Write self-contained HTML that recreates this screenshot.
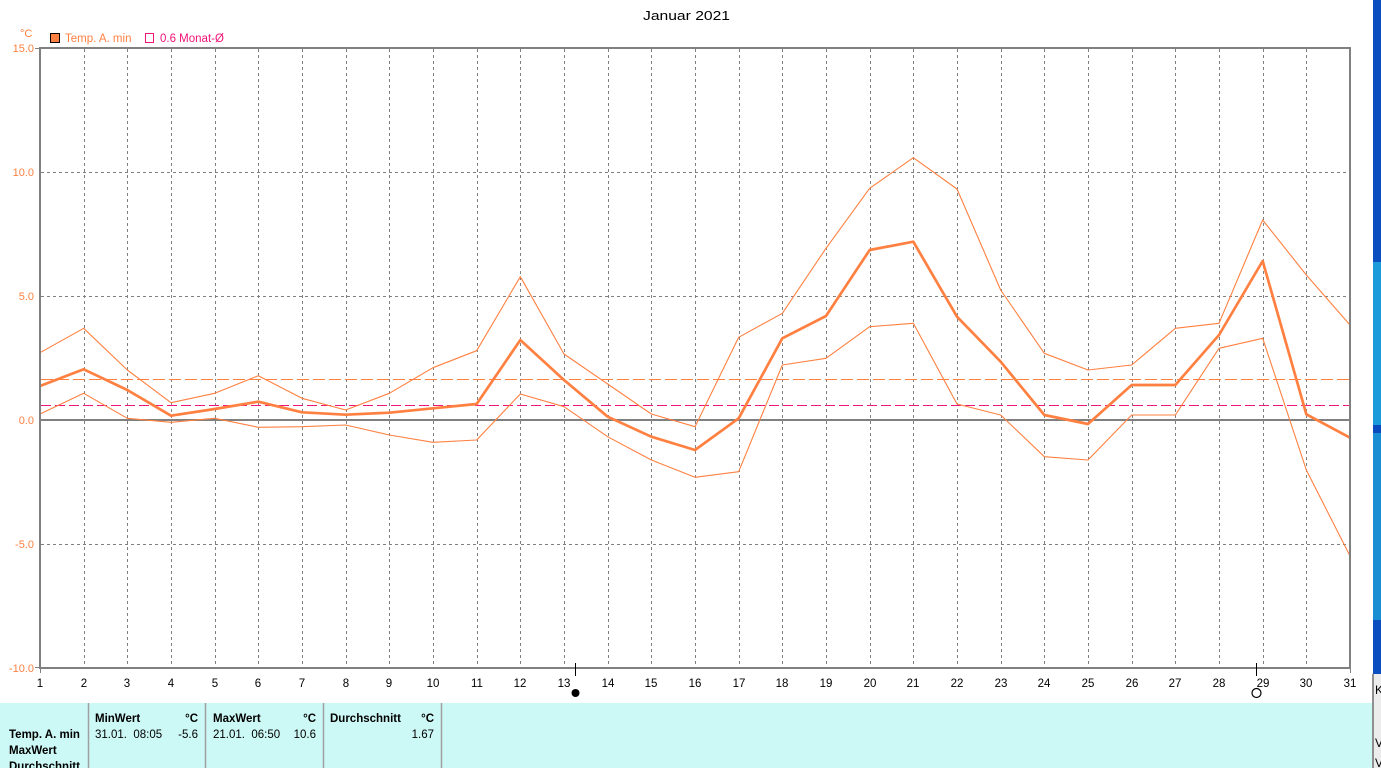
<!DOCTYPE html>
<html><head><meta charset="utf-8"><style>
html,body{margin:0;padding:0;background:#fff;}
svg{display:block;font-family:"Liberation Sans",sans-serif;}
</style></head><body>
<svg width="1381" height="768" viewBox="0 0 1381 768" xmlns="http://www.w3.org/2000/svg">
<rect x="0" y="0" width="1381" height="768" fill="#fff"/>
<!-- title -->
<text x="643" y="20" font-size="13" fill="#000" textLength="87" lengthAdjust="spacingAndGlyphs">Januar 2021</text>
<!-- unit + legend -->
<text x="20" y="37" font-size="11" fill="#FF8040">°C</text>
<rect x="50.5" y="33.5" width="9" height="9" fill="#FF8040" stroke="#000" stroke-width="1"/>
<text x="65" y="42" font-size="11.5" fill="#FF8040">Temp. A. min</text>
<rect x="145.5" y="33.5" width="8" height="9" fill="none" stroke="#F0147A" stroke-width="1"/>
<text x="160" y="42" font-size="11.5" fill="#F0147A">0.6 Monat-Ø</text>

<!-- grid vertical -->
<g stroke="#808080" stroke-width="1" stroke-dasharray="3,3" shape-rendering="crispEdges">
<line x1="84.5" y1="49" x2="84.5" y2="667"/>
<line x1="127.5" y1="49" x2="127.5" y2="667"/>
<line x1="171.5" y1="49" x2="171.5" y2="667"/>
<line x1="215.5" y1="49" x2="215.5" y2="667"/>
<line x1="258.5" y1="49" x2="258.5" y2="667"/>
<line x1="302.5" y1="49" x2="302.5" y2="667"/>
<line x1="346.5" y1="49" x2="346.5" y2="667"/>
<line x1="389.5" y1="49" x2="389.5" y2="667"/>
<line x1="433.5" y1="49" x2="433.5" y2="667"/>
<line x1="477.5" y1="49" x2="477.5" y2="667"/>
<line x1="520.5" y1="49" x2="520.5" y2="667"/>
<line x1="564.5" y1="49" x2="564.5" y2="667"/>
<line x1="608.5" y1="49" x2="608.5" y2="667"/>
<line x1="651.5" y1="49" x2="651.5" y2="667"/>
<line x1="695.5" y1="49" x2="695.5" y2="667"/>
<line x1="739.5" y1="49" x2="739.5" y2="667"/>
<line x1="782.5" y1="49" x2="782.5" y2="667"/>
<line x1="826.5" y1="49" x2="826.5" y2="667"/>
<line x1="870.5" y1="49" x2="870.5" y2="667"/>
<line x1="913.5" y1="49" x2="913.5" y2="667"/>
<line x1="957.5" y1="49" x2="957.5" y2="667"/>
<line x1="1001.5" y1="49" x2="1001.5" y2="667"/>
<line x1="1044.5" y1="49" x2="1044.5" y2="667"/>
<line x1="1088.5" y1="49" x2="1088.5" y2="667"/>
<line x1="1132.5" y1="49" x2="1132.5" y2="667"/>
<line x1="1175.5" y1="49" x2="1175.5" y2="667"/>
<line x1="1219.5" y1="49" x2="1219.5" y2="667"/>
<line x1="1263.5" y1="49" x2="1263.5" y2="667"/>
<line x1="1306.5" y1="49" x2="1306.5" y2="667"/>
<!-- horizontal -->
<line x1="41" y1="172.5" x2="1349" y2="172.5"/>
<line x1="41" y1="296.5" x2="1349" y2="296.5"/>
<line x1="41" y1="544.5" x2="1349" y2="544.5"/>
</g>
<!-- zero line -->
<line x1="40" y1="420" x2="1350" y2="420" stroke="#808080" stroke-width="2" shape-rendering="crispEdges"/>
<!-- reference dashed lines -->
<line x1="41" y1="379.5" x2="1349" y2="379.5" stroke="#FF8040" stroke-width="1" stroke-dasharray="12,4" shape-rendering="crispEdges"/>
<line x1="41" y1="405.5" x2="1349" y2="405.5" stroke="#F0147A" stroke-width="1" stroke-dasharray="10,4" shape-rendering="crispEdges"/>

<!-- series -->
<g fill="none" stroke="#FF8040" stroke-linejoin="round">
<polyline stroke-width="1.1" points="40,352.7 83.67,328.3 127.33,370 171,402.7 214.67,393.3 258.33,375.7 302,398.3 345.67,410 389.33,393.3 433,367.7 476.67,350.7 520.33,276.7 564,354 607.67,384 651.33,414 695,426.7 738.67,337.3 782.33,313.3 826,248.3 869.67,188.3 913.33,157.7 957,189 1000.67,290 1044.33,353.3 1088,370 1131.67,365 1175.33,328.3 1219,323.3 1262.67,220 1306.33,275 1350,325"/>
<polyline stroke-width="2.7" points="40,386 83.67,369.3 127.33,390 171,415.7 214.67,409 258.33,401.7 302,412.3 345.67,414.7 389.33,412.7 433,408.3 476.67,404 520.33,340 564,380 607.67,416.7 651.33,436.7 695,450 738.67,418.3 782.33,338.3 826,316 869.67,250 913.33,241.7 957,316.7 1000.67,361.7 1044.33,415 1088,424 1131.67,385 1175.33,385 1219,335 1262.67,261 1306.33,414.3 1350,437.7"/>
<polyline stroke-width="1.1" points="40,414 83.67,393.3 127.33,418.3 171,422.3 214.67,418.3 258.33,427.3 302,426.7 345.67,425 389.33,435 433,442.3 476.67,440 520.33,394 564,406.7 607.67,436.7 651.33,460 695,477.3 738.67,471.7 782.33,365 826,358.3 869.67,326.7 913.33,323.3 957,404 1000.67,415 1044.33,456.7 1088,460 1131.67,415 1175.33,415 1219,348.3 1262.67,338.3 1306.33,470 1350,556"/>
</g>

<!-- frame -->
<rect x="40" y="48" width="1310" height="620" fill="none" stroke="#808080" stroke-width="2" shape-rendering="crispEdges"/>
<g stroke="#808080" stroke-width="1" shape-rendering="crispEdges">
<line x1="35" y1="48.5" x2="40" y2="48.5"/>
<line x1="35" y1="667.5" x2="40" y2="667.5"/>
<line x1="40.5" y1="668" x2="40.5" y2="673"/>
<line x1="1350.5" y1="668" x2="1350.5" y2="673"/>
</g>

<!-- y labels -->
<g font-size="11" fill="#FF8040" text-anchor="end">
<text x="34" y="52">15.0</text>
<text x="34" y="176">10.0</text>
<text x="34" y="300">5.0</text>
<text x="34" y="424">0.0</text>
<text x="34" y="548">-5.0</text>
<text x="34" y="672">-10.0</text>
</g>

<!-- x labels -->
<g font-size="11.5" fill="#000" text-anchor="middle">
<text x="40" y="687">1</text>
<text x="84" y="687">2</text>
<text x="127" y="687">3</text>
<text x="171" y="687">4</text>
<text x="215" y="687">5</text>
<text x="258" y="687">6</text>
<text x="302" y="687">7</text>
<text x="346" y="687">8</text>
<text x="389" y="687">9</text>
<text x="433" y="687">10</text>
<text x="477" y="687">11</text>
<text x="520" y="687">12</text>
<text x="564" y="687">13</text>
<text x="608" y="687">14</text>
<text x="651" y="687">15</text>
<text x="695" y="687">16</text>
<text x="739" y="687">17</text>
<text x="782" y="687">18</text>
<text x="826" y="687">19</text>
<text x="870" y="687">20</text>
<text x="913" y="687">21</text>
<text x="957" y="687">22</text>
<text x="1001" y="687">23</text>
<text x="1044" y="687">24</text>
<text x="1088" y="687">25</text>
<text x="1132" y="687">26</text>
<text x="1175" y="687">27</text>
<text x="1219" y="687">28</text>
<text x="1263" y="687">29</text>
<text x="1306" y="687">30</text>
<text x="1350" y="687">31</text>
</g>

<!-- moon markers -->
<line x1="575.5" y1="663" x2="575.5" y2="676" stroke="#000" stroke-width="1"/>
<circle cx="575.5" cy="693" r="4" fill="#000"/>
<line x1="1256.5" y1="663" x2="1256.5" y2="676" stroke="#000" stroke-width="1"/>
<circle cx="1256.5" cy="693" r="4.5" fill="none" stroke="#000" stroke-width="1.2"/>

<!-- bottom table -->
<rect x="0" y="703" width="1372" height="65" fill="#CCF8F5"/>
<g stroke="#A0A0A0" stroke-width="1.5">
<line x1="88.5" y1="703" x2="88.5" y2="768"/>
<line x1="205.5" y1="703" x2="205.5" y2="768"/>
<line x1="323.5" y1="703" x2="323.5" y2="768"/>
<line x1="441.5" y1="703" x2="441.5" y2="768"/>
</g>
<g font-size="11.5" fill="#000">
<text x="9" y="738" font-weight="bold">Temp. A. min</text>
<text x="9" y="754" font-weight="bold">MaxWert</text>
<text x="9" y="770" font-weight="bold">Durchschnitt</text>
<text x="95" y="722" font-weight="bold">MinWert</text>
<text x="198" y="722" font-weight="bold" text-anchor="end">°C</text>
<text x="95" y="738" xml:space="preserve">31.01.  08:05</text>
<text x="198" y="738" text-anchor="end">-5.6</text>
<text x="213" y="722" font-weight="bold">MaxWert</text>
<text x="316" y="722" font-weight="bold" text-anchor="end">°C</text>
<text x="213" y="738" xml:space="preserve">21.01.  06:50</text>
<text x="316" y="738" text-anchor="end">10.6</text>
<text x="330" y="722" font-weight="bold">Durchschnitt</text>
<text x="434" y="722" font-weight="bold" text-anchor="end">°C</text>
<text x="434" y="738" text-anchor="end">1.67</text>
</g>

<!-- right edge desktop strip -->
<rect x="1373" y="0" width="8" height="674" fill="#0B4EC0"/>
<rect x="1373" y="262" width="8" height="163" fill="#1B9BD9"/>
<rect x="1373" y="425" width="8" height="8" fill="#0A4BC0"/>
<rect x="1373" y="433" width="8" height="187" fill="#1A8ED3"/>
<rect x="1373" y="674" width="8" height="94" fill="#ECECEC"/>
<line x1="1373" y1="674" x2="1373" y2="768" stroke="#909090" stroke-width="2"/>
<g font-size="12" fill="#000">
<text x="1375" y="694">K</text>
<text x="1375" y="747">V</text>
<text x="1375" y="767">V</text>
</g>
</svg>
</body></html>
